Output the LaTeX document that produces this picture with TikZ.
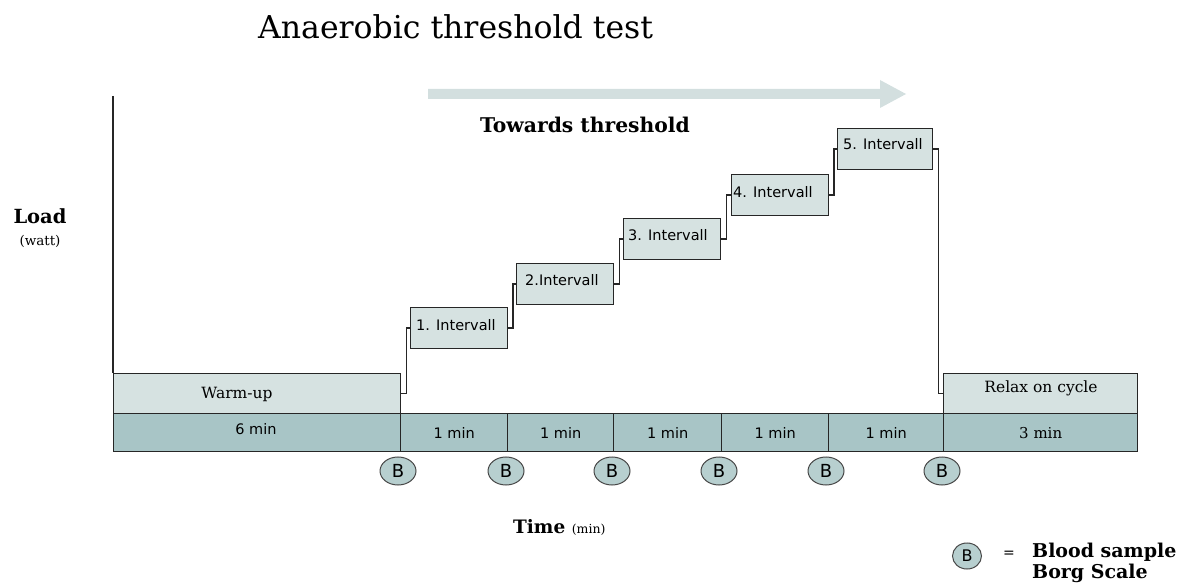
\documentclass[tikz,border=0pt]{standalone}
\usepackage{fontspec}
\setmainfont{DejaVu Serif}
\newfontfamily\sansf{DejaVu Sans}
\usetikzlibrary{shapes.geometric}
\definecolor{lightbox}{HTML}{D6E2E1}
\definecolor{darkbox}{HTML}{A8C5C6}
\definecolor{circ}{HTML}{B7CFCF}
\definecolor{edge}{HTML}{262626}
\definecolor{arrowc}{HTML}{D3DFDF}
\tikzset{
  ibox/.style={draw=edge, fill=lightbox, line width=1.4pt, minimum width=97pt, minimum height=41pt, inner sep=0pt, anchor=north west},
  wbox/.style={draw=edge, fill=lightbox, line width=1.4pt, minimum height=40pt, inner sep=0pt, anchor=north west},
  cell/.style={draw=edge, fill=darkbox, line width=1.4pt, minimum height=38pt, inner sep=0pt, anchor=north west},
  bcirc/.style={ellipse, draw=edge!85, fill=circ, line width=1pt, minimum width=36pt, minimum height=28pt, inner sep=0pt, font=\sansf\fontsize{18}{18}\selectfont},
  ilabel/.style={anchor=west, inner sep=0pt, font=\sansf\fontsize{14.5}{14.5}\selectfont},
  sanscell/.style={font=\sansf\fontsize{14.5}{14.5}\selectfont},
  conn/.style={draw=edge, line width=1.4pt},
}
\begin{document}
\begin{tikzpicture}[x=1pt,y=-1pt]
\useasboundingbox (0,0) rectangle (1189,585);
% title
\node[anchor=base west, inner sep=0pt, font=\fontsize{31.5}{31.5}\selectfont] (title) at (258,39) {Anaerobic threshold test};
% arrow
\fill[arrowc] (428,89) -- (880,89) -- (880,80) -- (906,94) -- (880,108) -- (880,99) -- (428,99) -- cycle;
\node[anchor=base, inner sep=0pt, font=\bfseries\fontsize{20.3}{20.3}\selectfont] (towards) at (585,133) {Towards threshold};
% axis labels
\node[anchor=base, inner sep=0pt, font=\bfseries\fontsize{19.5}{19.5}\selectfont] (load) at (40,224) {Load};
\node[anchor=base, inner sep=0pt, font=\fontsize{13.5}{13.5}\selectfont] (watt) at (40,246) {(watt)};
\node[anchor=base west, inner sep=0pt] (time) at (513,533) {\fontsize{18.5}{18.5}\selectfont\bfseries Time \fontsize{12.5}{12.5}\mdseries\selectfont(min)};
% vertical axis
\coordinate (axtop) at (113,96);
% top boxes
\node[wbox, minimum width=287pt] (warm) at (113,373) {};
\node[wbox, minimum width=194pt] (relax) at (943,373) {};
\draw[conn] (axtop) -- (warm.north west);
\node[inner sep=0pt, font=\fontsize{15.5}{15.5}\selectfont] (warmt) at (237,394) {Warm-up};
\node[inner sep=0pt, font=\fontsize{15.5}{15.5}\selectfont] (relaxt) at (1041,388) {Relax on cycle};
% interval boxes
\node[ibox] (i1) at (410,307) {};
\node[ibox] (i2) at (516,263) {};
\node[ibox] (i3) at (623,218) {};
\node[ibox] (i4) at (731,174) {};
\node[ibox, minimum width=95pt] (i5) at (837,128) {};
\node[ilabel] (l1) at ([xshift=6pt,yshift=3pt]i1.west) {1. Intervall};
\node[ilabel] (l2) at ([xshift=9pt,yshift=4pt]i2.west) {2.Intervall};
\node[ilabel] (l3) at ([xshift=5pt,yshift=4pt]i3.west) {3. Intervall};
\node[ilabel] (l4) at ([xshift=2pt,yshift=3pt]i4.west) {4. Intervall};
\node[ilabel] (l5) at ([xshift=6pt,yshift=5pt]i5.west) {5. Intervall};
% step connectors
\draw[conn] (warm.east) -- ++(5,0) |- (i1.west);
\draw[conn] (i1.east) -- ++(4.5,0) |- (i2.west);
\draw[conn] (i2.east) -- ++(5,0) |- (i3.west);
\draw[conn] (i3.east) -- ++(5,0) |- (i4.west);
\draw[conn] (i4.east) -- ++(4.5,0) |- (i5.west);
\draw[conn] (i5.east) -- ++(5,0) |- (relax.west);
% bottom row
\node[cell, minimum width=287pt] (c0) at (113,413) {};
\node[inner sep=0pt, sanscell] (c0t) at (256,429) {6 min};
\node[cell, minimum width=107pt, sanscell] (c1) at (400,413) {1 min};
\node[cell, minimum width=106pt, sanscell] (c2) at (507,413) {1 min};
\node[cell, minimum width=108pt, sanscell] (c3) at (613,413) {1 min};
\node[cell, minimum width=107pt, sanscell] (c4) at (721,413) {1 min};
\node[cell, minimum width=115pt, sanscell] (c5) at (828,413) {1 min};
\node[cell, minimum width=194pt, font=\fontsize{15}{15}\selectfont] (c6) at (943,413) {3 min};
% blood samples
\node[bcirc] (b1) at (398,471) {B};
\node[bcirc] (b2) at (506,471) {B};
\node[bcirc] (b3) at (612,471) {B};
\node[bcirc] (b4) at (719,471) {B};
\node[bcirc] (b5) at (826,471) {B};
\node[bcirc] (b6) at (942,471) {B};
% legend
\node[bcirc, minimum width=29pt, minimum height=26pt, font=\sansf\fontsize{16}{16}\selectfont] (lb) at (967,556) {B};
\node[anchor=base, inner sep=0pt, font=\sansf\fontsize{14}{14}\selectfont] (eq) at (1009,557) {=};
\node[anchor=base west, inner sep=0pt, font=\bfseries\fontsize{19}{19}\selectfont] (blood) at (1032,557) {Blood sample};
\node[anchor=base west, inner sep=0pt, font=\bfseries\fontsize{19}{19}\selectfont] (borg) at (1032,578) {Borg Scale};
\end{tikzpicture}
\end{document}
